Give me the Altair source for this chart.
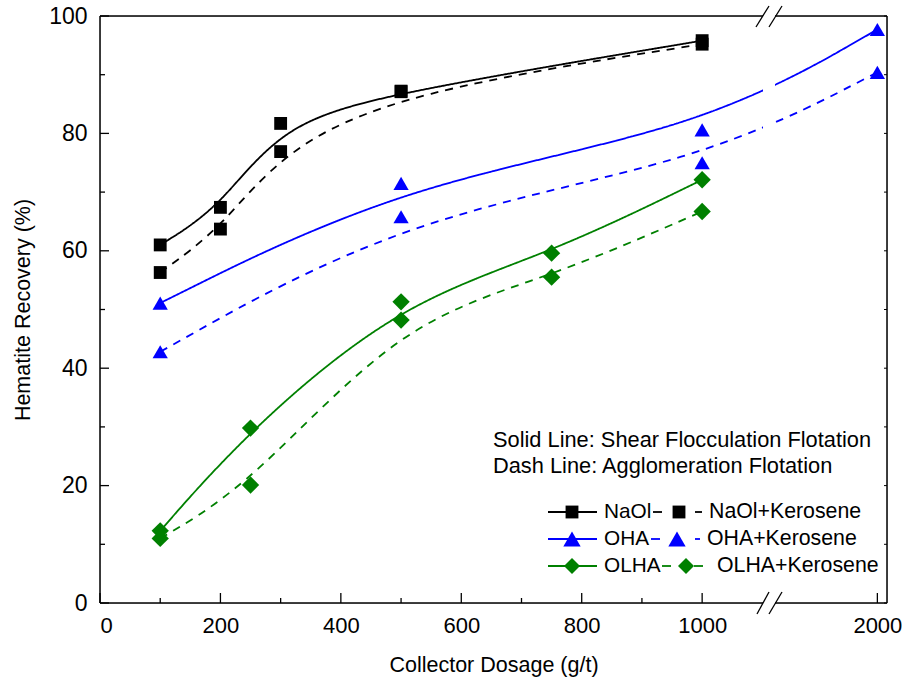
import altair as alt
import pandas as pd

# ---------------- data ----------------
naol_dose = [100, 200, 300, 500, 1000]
naol_solid = [61.0, 67.4, 81.7, 87.2, 95.8]
naol_kero = [56.3, 63.7, 76.9, 87.1, 95.2]

oha_dose = [100, 500, 1000, 2000]
oha_solid = [51.1, 71.5, 80.6, 97.7]
oha_kero = [42.8, 65.8, 75.0, 90.4]

olha_dose = [100, 250, 500, 750, 1000]
olha_solid = [12.3, 29.8, 51.3, 59.6, 72.1]
olha_kero = [11.0, 20.1, 48.2, 55.5, 66.7]

collectors = ["NaOl", "OHA", "OLHA"]
kero_labels = ["NaOl+Kerosene", "OHA+Kerosene", "OLHA+Kerosene"]
colors = ["#000000", "#0000FF", "#008000"]
shapes = ["square", "triangle-up", "diamond"]
sizes = [165, 300, 256]

x_major = [0, 200, 400, 600, 800, 1000, 2000]
x_minor = [100, 300, 500, 700, 900]
y_major = [0, 20, 40, 60, 80, 100]
y_minor = [10, 30, 50, 70, 90]

annot = ["Solid Line: Shear Flocculation Flotation", "Dash Line: Agglomeration Flotation"]

# ---------------- layout ----------------
W, H = 787, 587
XMAX = 1307
BREAK_SCALE = 0.291  # 1000..2000 segment compressed after the axis break
FONT = "Liberation Sans"

rows = []
for c, d, s, k in [("NaOl", naol_dose, naol_solid, naol_kero),
                   ("OHA", oha_dose, oha_solid, oha_kero),
                   ("OLHA", olha_dose, olha_solid, olha_kero)]:
    for dv, sv in zip(d, s):
        rows.append({"dose": dv, "recovery": sv, "collector": c, "method": "solid", "series": c + "-solid"})
    for dv, kv in zip(d, k):
        rows.append({"dose": dv, "recovery": kv, "collector": c, "method": "dash", "series": c + "-dash"})
df = pd.DataFrame(rows)

calc = f"datum.dose > 1000 ? 1000 + (datum.dose - 1000) * {BREAK_SCALE} : datum.dose"
x2000 = 1000 + 1000 * BREAK_SCALE

x_axis = alt.Axis(values=[0, 200, 400, 600, 800, 1000, x2000],
                  labelExpr="datum.value > 1100 ? '2000' : format(datum.value, 'd')",
                  ticks=False, domain=False, grid=False,
                  labelFont=FONT, labelFontSize=22, labelColor="black", labelPadding=12,
                  title="Collector Dosage (g/t)", titleFont=FONT, titleFontSize=21.5,
                  titleFontWeight="normal", titleColor="black", titlePadding=18)
y_axis = alt.Axis(values=y_major, ticks=False, domain=False, grid=False,
                  labelFont=FONT, labelFontSize=23, labelColor="black", labelPadding=13,
                  title="Hematite Recovery (%)", titleFont=FONT, titleFontSize=21.5,
                  titleFontWeight="normal", titleColor="black", titlePadding=14)
xs = alt.Scale(domain=[0, XMAX], nice=False, zero=False)
ys = alt.Scale(domain=[0, 100], nice=False, zero=False)

X = alt.X("xpos:Q", scale=xs, axis=x_axis)
Y = alt.Y("recovery:Q", scale=ys, axis=y_axis)

color_scale = alt.Scale(domain=collectors, range=colors)

base = alt.Chart(df).transform_calculate(xpos=calc)

lines = base.mark_line(interpolate="basis", strokeWidth=1.8).encode(
    x=X, y=Y,
    color=alt.Color("collector:N", scale=color_scale, legend=None),
    strokeDash=alt.StrokeDash("method:N", scale=alt.Scale(domain=["solid", "dash"], range=[[1, 0], [8, 7]]), legend=None),
    detail="series:N",
)

points = base.mark_point(filled=True, opacity=1, strokeWidth=0).encode(
    x=X, y=Y,
    color=alt.Color("collector:N", scale=color_scale, legend=None),
    shape=alt.Shape("collector:N", scale=alt.Scale(domain=collectors, range=shapes), legend=None),
    size=alt.Size("collector:N", scale=alt.Scale(domain=collectors, range=sizes), legend=None),
)

# tick marks (inward)
xt_major = alt.Chart(pd.DataFrame({"dose": x_major})).transform_calculate(xpos=calc).mark_rule(
    color="black", strokeWidth=1.3).encode(x=X, y=alt.value(H), y2=alt.value(H - 10))
xt_minor = alt.Chart(pd.DataFrame({"dose": x_minor})).transform_calculate(xpos=calc).mark_rule(
    color="black", strokeWidth=1.3).encode(x=X, y=alt.value(H), y2=alt.value(H - 5))
yt_major = alt.Chart(pd.DataFrame({"recovery": y_major})).mark_rule(
    color="black", strokeWidth=1.3).encode(y=Y, x=alt.value(0), x2=alt.value(9))
yt_minor = alt.Chart(pd.DataFrame({"recovery": y_minor})).mark_rule(
    color="black", strokeWidth=1.3).encode(y=Y, x=alt.value(0), x2=alt.value(5))
yt_right = alt.Chart(pd.DataFrame({"recovery": y_minor + y_major})).mark_rule(
    color="black", strokeWidth=1.0).encode(y=Y, x=alt.value(W), x2=alt.value(W - 3))

dummy = pd.DataFrame({"k": [0]})


def vrule(x1, y1, x2, y2, color="black", width=1.5):
    return alt.Chart(dummy).mark_rule(color=color, strokeWidth=width).encode(
        x=alt.value(x1), y=alt.value(y1), x2=alt.value(x2), y2=alt.value(y2))


def vpoint(x, y, shape, color, size):
    return alt.Chart(dummy).mark_point(shape=shape, filled=True, color=color, size=size,
                                       opacity=1, strokeWidth=0).encode(x=alt.value(x), y=alt.value(y))


def vtext(x, y, txt, size=20.8):
    return alt.Chart(dummy).mark_text(align="left", baseline="middle", font=FONT, fontSize=size,
                                      color="black").encode(x=alt.value(x), y=alt.value(y), text=alt.value(txt))


frame = [
    vrule(0, 0, W, 0), vrule(0, H, W, H), vrule(0, 0, 0, H), vrule(W, 0, W, H),
]

# axis break
gap = alt.Chart(dummy).mark_rect(color="white").encode(
    x=alt.value(663), x2=alt.value(675), y=alt.value(-12), y2=alt.value(H + 12))
slashes = [
    vrule(656, 11, 669, -10, width=1.3), vrule(669, 11, 682, -10, width=1.3),
    vrule(657, H + 11, 669, H - 11, width=1.3), vrule(669, H + 11, 682, H - 11, width=1.3),
]

# legend
legend_layers = []
row_y = [496, 523, 550]
kero_x = [609, 607, 617]
dash_left = [(553, 562), (551, 560), (562, 571)]
mark_x2 = [579, 577, 586]
dash_right = [(595, 602), (595, 600), (594, 603)]
for i in range(3):
    yv = row_y[i]
    legend_layers += [
        vrule(448, yv, 497, yv, color=colors[i], width=1.8),
        vpoint(472, yv, shapes[i], colors[i], sizes[i]),
        vtext(504, yv, collectors[i]),
        vrule(dash_left[i][0], yv, dash_left[i][1], yv, color=colors[i], width=1.8),
        vpoint(mark_x2[i], yv, shapes[i], colors[i], sizes[i]),
        vrule(dash_right[i][0], yv, dash_right[i][1], yv, color=colors[i], width=1.8),
        vtext(kero_x[i], yv, kero_labels[i], 21.3),
    ]

annotations = [vtext(393, 424, annot[0], 21.8), vtext(393, 450, annot[1], 21.8)]

chart = alt.layer(
    lines, points, xt_major, xt_minor, yt_major, yt_minor, yt_right,
    *frame, gap, *slashes, *legend_layers, *annotations
).properties(
    width=W, height=H,
    autosize=alt.AutoSizeParams(type="none"),
    padding={"left": 100, "top": 16, "right": 907 - 100 - W, "bottom": 684 - 16 - H},
).configure_view(stroke=None).configure(background="white")

chart.save("out.html", embed_options={"renderer": "svg", "actions": False})
